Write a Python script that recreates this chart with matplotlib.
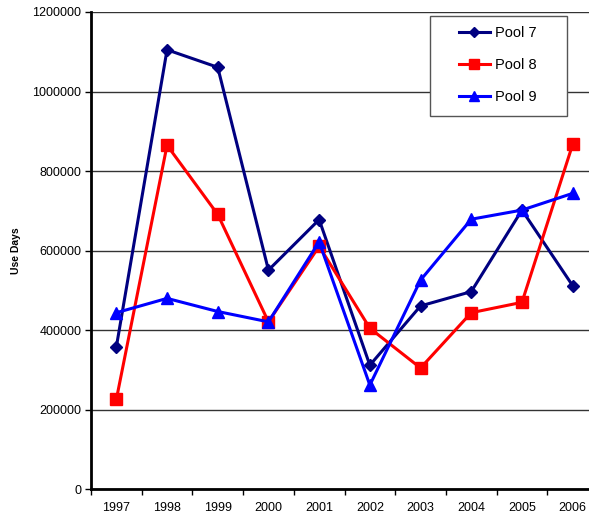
import numpy as np
import matplotlib.pyplot as plt
from matplotlib.patches import Rectangle

plt.rcParams.update({
    "font.family": ["Liberation Sans", "DejaVu Sans"],
    "font.size": 9,
})

# data
years = ["1997", "1998", "1999", "2000", "2001", "2002", "2003", "2004", "2005", "2006"]
pool7 = [358000, 1105000, 1061000, 551000, 678000, 312000, 461000, 497000, 702000, 512000]
pool8 = [226000, 865000, 691000, 421000, 611000, 405000, 305000, 444000, 470000, 867000]
pool9 = [444000, 480000, 447000, 421000, 622000, 262000, 526000, 679000, 702000, 744000]
y_ticks = [0, 200000, 400000, 600000, 800000, 1000000, 1200000]

W, H = 589, 516
fig = plt.figure(figsize=(W / 100, H / 100), dpi=100)
# axes run a bit past the right edge of the picture, as in the reference
ax = fig.add_axes([91 / W, 1 - 489.3 / H, 507 / W, 477.3 / H])

x = np.arange(len(years))
ax.plot(x, pool7, color="#000080", lw=2.2, marker="D", ms=6, label="Pool 7", zorder=3)
ax.plot(x, pool8, color="#FF0000", lw=2.2, marker="s", ms=8, label="Pool 8", zorder=3)
ax.plot(x, pool9, color="#0000FF", lw=2.2, marker="^", ms=8, label="Pool 9", zorder=3)

ax.set_xlim(-0.5, len(years) - 0.5)
ax.set_ylim(0, 1200000)
ax.set_yticks(y_ticks)
ax.set_yticklabels([str(v) for v in y_ticks])
ax.yaxis.grid(True, color="#333333", lw=1)
ax.set_axisbelow(True)

ax.set_xticks(np.arange(-0.5, len(years), 1.0))
ax.set_xticklabels([])
ax.set_xticks(x, minor=True)
ax.set_xticklabels(years, minor=True)
ax.tick_params(axis="x", which="major", direction="out", length=4, width=1)
ax.tick_params(axis="x", which="minor", length=0, pad=9)
ax.tick_params(axis="y", direction="out", length=4, width=1, pad=3)

for s in ["top", "right"]:
    ax.spines[s].set_visible(False)
ax.spines["left"].set_linewidth(2)
ax.spines["bottom"].set_linewidth(2)

ax.set_ylabel("Use Days", fontsize=7.5, fontweight="bold", labelpad=8)

# legend without its own frame, box drawn separately (wider side margins)
leg = fig.legend(loc="upper left", bbox_to_anchor=(459 / W, 1 - 26 / H),
                 fontsize=10.5, frameon=False, markerscale=0.85,
                 handlelength=2.1, handletextpad=0.35, labelspacing=1.25,
                 borderpad=0, borderaxespad=0)
fig.add_artist(Rectangle((430 / W, 1 - 116 / H), 137 / W, 100 / H,
                         transform=fig.transFigure, fill=True, facecolor="white",
                         edgecolor="#555555", lw=1, zorder=4))
leg.set_zorder(5)

fig.savefig("out.png", dpi=100)
